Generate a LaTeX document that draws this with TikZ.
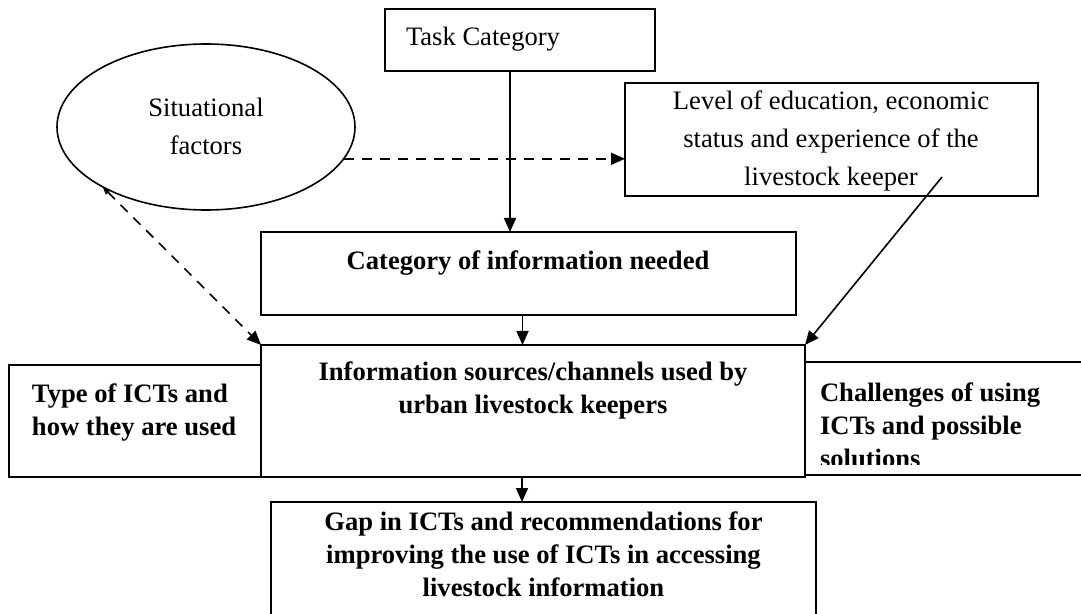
\documentclass[tikz,border=0pt]{standalone}
\usepackage{fontspec}
\setmainfont{Liberation Serif}
\usetikzlibrary{shapes.geometric,arrows.meta}

\begin{document}
\begin{tikzpicture}[x=0.5pt, y=-0.5pt, outer sep=0pt, line width=0.8pt]

\tikzstyle{box}=[draw, rectangle, anchor=north west, inner sep=0pt]
\tikzstyle{reg}=[inner sep=0pt, font=\fontsize{13.3}{19}\selectfont, execute at begin node=\strut]
\tikzstyle{bld}=[inner sep=0pt, font=\bfseries\fontsize{13.3}{16.5}\selectfont, execute at begin node=\strut]
\tikzstyle{arr}=[-{Triangle[length=7pt,width=6pt]}]
\tikzstyle{darr}=[dash pattern=on 5pt off 4pt, -{Triangle[length=7pt,width=6pt]}]

\useasboundingbox (0,0) rectangle (1081,614);
\clip (0,0) rectangle (1081,614);

\node[box, minimum width=135pt, minimum height=31pt] (task) at (385,9) {};
\node[reg, anchor=base west] (tasktxt) at (406,46) {Task Category};

\node[draw, ellipse, inner sep=0pt, minimum width=149pt, minimum height=83pt] (sit) at (206,127) {};
\node[reg, anchor=north, align=center] (sittxt) at (206,98) {Situational\\factors};

\node[box, minimum width=206.5pt, minimum height=56.5pt] (lev) at (625,83) {};
\node[reg, anchor=north, align=center] (levtxt) at (831,91) {Level of education, economic\\status and experience of the\\livestock keeper};

\node[box, minimum width=267.5pt, minimum height=41.5pt] (cat) at (261,232) {};
\node[bld, anchor=base] (cattxt) at (528,270) {Category of information needed};

\node[box, minimum width=272pt, minimum height=66pt] (info) at (261,345) {};
\node[bld, anchor=north, align=center] (infotxt) at (533,362) {Information sources/channels used by\\urban livestock keepers};

\node[box, minimum width=126pt, minimum height=56pt] (ict) at (9,365) {};
\node[bld, anchor=north west, align=left] (icttxt) at (32,384) {Type of ICTs and\\how they are used};

\node[box, minimum width=150pt, minimum height=56.5pt] (chal) at (805,362) {};
\begin{scope}
\clip (chal.north west) rectangle ([yshift=5.5pt]chal.south east);
\node[bld, anchor=north west, align=left] (chaltxt) at (820,383) {Challenges of using\\ICTs and possible\\solutions};
\end{scope}

\node[box, minimum width=272.5pt, minimum height=64pt] (gap) at (271,502) {};
\node[bld, anchor=north, align=center] (gaptxt) at (543.5,512) {Gap in ICTs and recommendations for\\improving the use of ICTs in accessing\\livestock information};

\coordinate (taskout) at ([xshift=-5pt]task.south);
\coordinate (catout) at ([xshift=-3pt]cat.south);
\coordinate (infoout) at ([xshift=-5.5pt]info.south);
\coordinate (levfoot) at ([xshift=-48pt,yshift=9.5pt]lev.south east);

\draw[arr] (taskout) -- (taskout |- cat.north);
\draw[arr] (catout) -- (catout |- info.north);
\draw[arr] (infoout) -- (infoout |- gap.north);
\draw[darr] (sit.-13) -- (sit.-13 -| lev.west);
\draw[dash pattern=on 5pt off 4pt, {Triangle[length=4pt,width=3pt]}-{Triangle[length=7pt,width=6pt]}] (sit.210) -- (info.north west);
\draw[arr] (levfoot) -- (info.north east);

\end{tikzpicture}
\end{document}
